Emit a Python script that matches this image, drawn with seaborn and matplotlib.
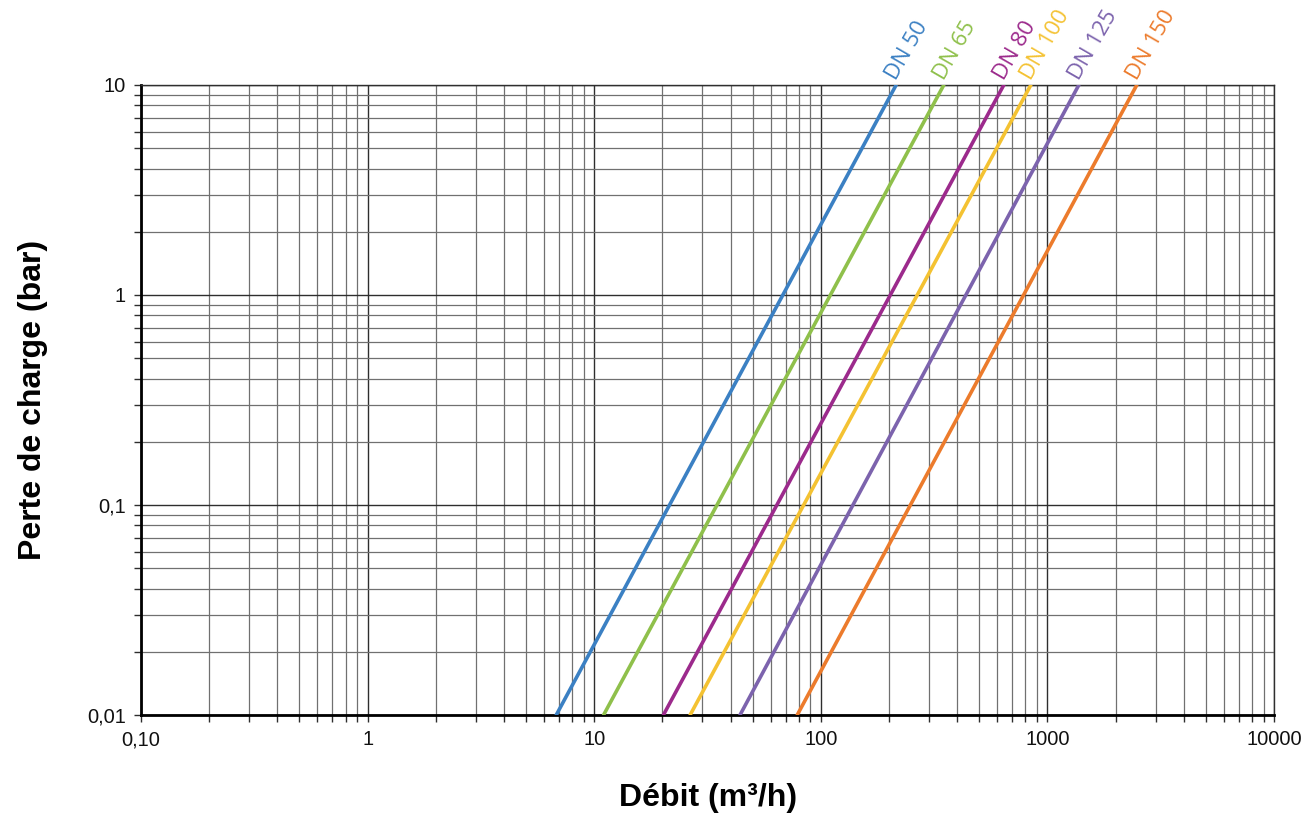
import numpy as np
import pandas as pd
import matplotlib.pyplot as plt
import matplotlib.ticker as mticker
import seaborn as sns

sns.set_theme(style='white')
plt.rcParams['font.family'] = ['Liberation Sans', 'DejaVu Sans']

# pressure drop range drawn for every valve size (bar)
dp_ends = [0.01, 10]
sizes = ['DN 50', 'DN 65', 'DN 80', 'DN 100', 'DN 125', 'DN 150']
# flow (m3/h) read at 0.01 bar and at 10 bar
flow_low = [6.8, 11.0, 20.2, 26.5, 44.0, 78.7]
flow_high = [215, 349, 642, 845, 1376, 2480]
colors = ['#3b80c3', '#8fc04b', '#9c2a8c', '#f4c232', '#7c63ad', '#ec7b2c']

rows = []
for name, lo, hi in zip(sizes, flow_low, flow_high):
    rows.append({'size': name, 'flow': lo, 'dp': dp_ends[0]})
    rows.append({'size': name, 'flow': hi, 'dp': dp_ends[1]})
df = pd.DataFrame(rows)

fig = plt.figure(figsize=(13.01, 8.14), dpi=100)
ax = fig.add_axes([141 / 1301, 1 - 715 / 814, (1274 - 141) / 1301, (715 - 85) / 814])

ax.set_xscale('log')
ax.set_yscale('log')
ax.set_xlim(0.1, 10000)
ax.set_ylim(0.01, 10)

ax.xaxis.set_major_locator(mticker.LogLocator(base=10, numticks=10))
ax.xaxis.set_minor_locator(mticker.LogLocator(base=10, subs=np.arange(2, 10), numticks=100))
ax.yaxis.set_major_locator(mticker.LogLocator(base=10, numticks=10))
ax.yaxis.set_minor_locator(mticker.LogLocator(base=10, subs=np.arange(2, 10), numticks=100))
ax.xaxis.set_minor_formatter(mticker.NullFormatter())
ax.yaxis.set_minor_formatter(mticker.NullFormatter())
ax.set_xticks([0.1, 1, 10, 100, 1000, 10000], ['0,10', '1', '10', '100', '1000', '10000'])
ax.set_yticks([0.01, 0.1, 1, 10], ['0,01', '0,1', '1', '10'])

ax.grid(which='major', color='#2e2e2e', lw=1.0)
ax.grid(which='minor', color='#707070', lw=0.9)
ax.set_axisbelow(True)

sns.lineplot(data=df, x='flow', y='dp', hue='size', palette=colors,
             lw=2.6, legend=False, ax=ax, zorder=3)

for name, hi, c in zip(sizes, flow_high, colors):
    ax.annotate(name, xy=(hi, dp_ends[1]), xytext=(3, 1), textcoords='offset points',
                ha='left', va='bottom', rotation=60, rotation_mode='anchor',
                color=c, fontsize=16, family=['Open Sans', 'DejaVu Sans'],
                annotation_clip=False)

for side in ['top', 'right']:
    ax.spines[side].set_color('#2e2e2e')
    ax.spines[side].set_linewidth(1.0)
for side in ['left', 'bottom']:
    ax.spines[side].set_color('black')
    ax.spines[side].set_linewidth(2.0)

ax.tick_params(which='both', direction='out', length=5, width=1, color='#2e2e2e',
               left=True, bottom=True, labelsize=14.5, labelcolor='#111111', pad=6)

ax.set_xlabel('Débit (m³/h)', fontsize=23, fontweight='bold', color='black')
ax.set_ylabel('Perte de charge (bar)', fontsize=23, fontweight='bold', color='black')
ax.xaxis.set_label_coords((708 - 141) / 1133, (715 - 783) / 630)
ax.yaxis.set_label_coords((48 - 141) / 1133, 0.5)

fig.savefig('out.png', dpi=100)
